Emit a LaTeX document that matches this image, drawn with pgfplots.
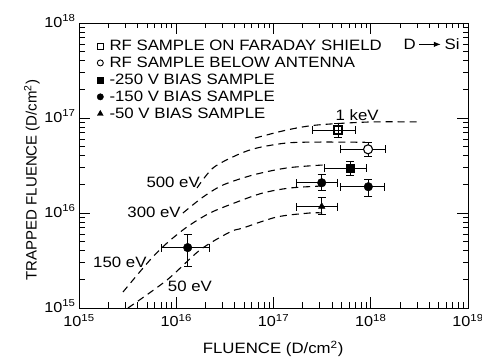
\documentclass[border=0pt]{standalone}
\usepackage{fontspec}
\setmainfont{Liberation Sans}[FakeStretch=1.12]
\newfontfamily\ylabfont{Liberation Sans}
\usepackage{pgfplots}
\pgfplotsset{compat=1.18}
\usetikzlibrary{arrows.meta}
\newcommand\lf{\fontsize{15bp}{16bp}\selectfont}
\newcommand\tf{\fontsize{14.5bp}{16bp}\selectfont}
\begin{document}
\begin{tikzpicture}
\path[use as bounding box] (-79bp,-50bp) rectangle (403bp,308bp);
\begin{axis}[
  scale only axis, width=389bp, height=285bp,
  xmode=log, ymode=log,
  xmin=1e15, xmax=1e19, ymin=1e15, ymax=1e18,
  axis line style={line width=0.9bp},
  tick style={black, line width=0.9bp},
  major tick length=0pt, minor tick length=0pt,
  tick label style={font=\tf},
  xticklabel style={yshift=-3bp},
  yticklabel style={yshift=2bp},
  xticklabel={10\textsuperscript{\pgfmathparse{int(round(\tick/ln(10)))}\pgfmathresult}},
  yticklabel={10\textsuperscript{\pgfmathparse{int(round(\tick/ln(10)))}\pgfmathresult}},
  xlabel={FLUENCE (D/cm\textsuperscript{2})},
  ylabel={\ylabfont TRAPPED FLUENCE (D/cm\textsuperscript{2})},
  xlabel style={font=\lf, at={(axis description cs:0.499,-0.143)}, anchor=center},
  ylabel style={font=\lf, at={(axis description cs:-0.121,0.449)}, anchor=center},
  legend style={at={(axis description cs:0.046,0.948)}, anchor=north west, draw=none, fill=none, font=\lf, row sep=1bp, column sep=4bp, inner xsep=0pt, inner ysep=0pt},
  legend cell align=left,
  legend image code/.code={\draw[#1] plot coordinates {(0bp,0bp)};},
]
% legend
\addlegendimage{only marks, mark=square, mark size=3bp, black, mark options={solid, fill=white, line width=0.9bp}}
\addlegendentry{RF SAMPLE ON FARADAY SHIELD}
\addlegendimage{only marks, mark=o, mark size=3bp, black, mark options={solid, fill=white, line width=0.9bp}}
\addlegendentry{RF SAMPLE BELOW ANTENNA}
\addlegendimage{only marks, mark=square*, mark size=3bp, black}
\addlegendentry{-250 V BIAS SAMPLE}
\addlegendimage{only marks, mark=*, mark size=3.2bp, black}
\addlegendentry{-150 V BIAS SAMPLE}
\addlegendimage{only marks, mark=triangle*, mark size=3.4bp, black}
\addlegendentry{-50 V BIAS SAMPLE}

% model curves
\pgfplotsset{curve/.style={black, line width=1.1bp, dash pattern=on 7bp off 5bp, smooth, forget plot, mark=none}}
\addplot[curve] coordinates {(6.46e16,6.15e16) (1.377e17,7.48e16) (2.80e17,8.43e16) (9.82e17,9.08e16) (3.06e18,9.08e16)};
\addplot[curve] coordinates {(1.633e16,1.832e16) (2.39e16,2.98e16) (4.22e16,4.08e16) (6.76e16,4.83e16) (1.377e17,5.46e16) (3.01e17,5.58e16) (8.73e17,5.55e16)};
\addplot[curve] coordinates {(1.172e16,1.0e16) (1.884e16,1.472e16) (3.03e16,1.972e16) (6.15e16,2.51e16) (1.377e17,2.98e16) (3.23e17,3.20e16)};
\addplot[curve] coordinates {(2.83e15,1.472e15) (5.37e15,3.20e15) (8.04e15,4.83e15) (1.291e16,7.13e15) (2.22e16,1.0e16) (4.22e16,1.306e16) (7.80e16,1.626e16) (1.479e17,1.832e16) (3.16e17,1.923e16)};
\addplot[curve] coordinates {(3.19e15,1.0e15) (8.04e15,1.972e15) (1.754e16,4.08e15) (3.57e16,6.31e15) (4.85e16,6.95e15) (1.086e17,9.08e15) (2.37e17,1.0e16) (3.16e17,1.0e16)};

% data
\pgfplotsset{pt/.style={black, only marks, forget plot,
  error bars/x dir=both, error bars/x explicit, error bars/y dir=both, error bars/y explicit,
  error bars/error bar style={line width=0.9bp, black, solid},
  error bars/error mark options={rotate=90, mark size=4bp, line width=0.9bp}}}
\addplot[pt, mark=square, mark size=4bp, mark options={fill=white, line width=1.1bp}] coordinates {(4.60e17,7.48e16) += (2.29e17,1.37e16) -= (2.11e17,1.17e16)};
\addplot[pt, mark=*, mark size=4.5bp, mark options={fill=white, line width=1.1bp}] coordinates {(9.38e17,4.68e16) += (4.65e17,0.82e16) -= (4.55e17,0.76e16)};
\addplot[pt, mark=square*, mark size=4bp] coordinates {(6.12e17,2.95e16) += (3.0e17,0.52e16) -= (2.81e17,0.44e16)};
\addplot[pt, mark=*, mark size=4.3bp] coordinates {(3.13e17,2.08e16) += (1.40e17,0.49e16) -= (1.40e17,0.36e16)
  (9.44e17,1.89e16) += (4.36e17,0.37e16) -= (4.54e17,0.41e16)
  (1.31e16,4.32e15) += (0.91e16,1.65e15) -= (0.60e16,1.57e15)};
\addplot[pt, mark=triangle*, mark size=3.8bp] coordinates {(3.13e17,1.17e16) += (1.40e17,0.29e16) -= (1.40e17,0.21e16)};

% tick marks (major and minor, on all four sides, pointing inward)
\foreach \e in {15,16,17,18}{\foreach \m in {1,2,3,4,5,6,7,8,9}{%
  \ifnum\m=1 \def\L{11bp}\else\def\L{5.5bp}\fi
  \edef\temp{\noexpand\draw[black, line width=0.9bp] (axis cs:\m e\e,1e15) -- ++(0bp,\L);
    \noexpand\draw[black, line width=0.9bp] (axis cs:\m e\e,1e18) -- ++(0bp,-\L);}\temp
}}
\foreach \e in {15,16,17}{\foreach \m in {1,2,3,4,5,6,7,8,9}{%
  \ifnum\m=1 \def\L{11bp}\else\def\L{5.5bp}\fi
  \edef\temp{\noexpand\draw[black, line width=0.9bp] (axis cs:1e15,\m e\e) -- ++(\L,0bp);
    \noexpand\draw[black, line width=0.9bp] (axis cs:1e19,\m e\e) -- ++(-\L,0bp);}\temp
}}

% labels
\node[font=\lf] at (axis description cs:0.715,0.677) {1 keV};
\node[font=\lf] at (axis description cs:0.242,0.442) {500 eV};
\node[font=\lf] at (axis description cs:0.193,0.337) {300 eV};
\node[font=\lf] at (axis description cs:0.105,0.161) {150 eV};
\node[font=\lf] at (axis description cs:0.285,0.077) {50 eV};
\node[font=\lf] at (axis description cs:0.850,0.925) {D};
\node[font=\lf] at (axis description cs:0.959,0.925) {Si};
\draw[line width=0.9bp, -{Latex[length=7bp,width=5.5bp]}] (axis description cs:0.874,0.925) -- (axis description cs:0.930,0.925);
\end{axis}
\end{tikzpicture}
\end{document}
